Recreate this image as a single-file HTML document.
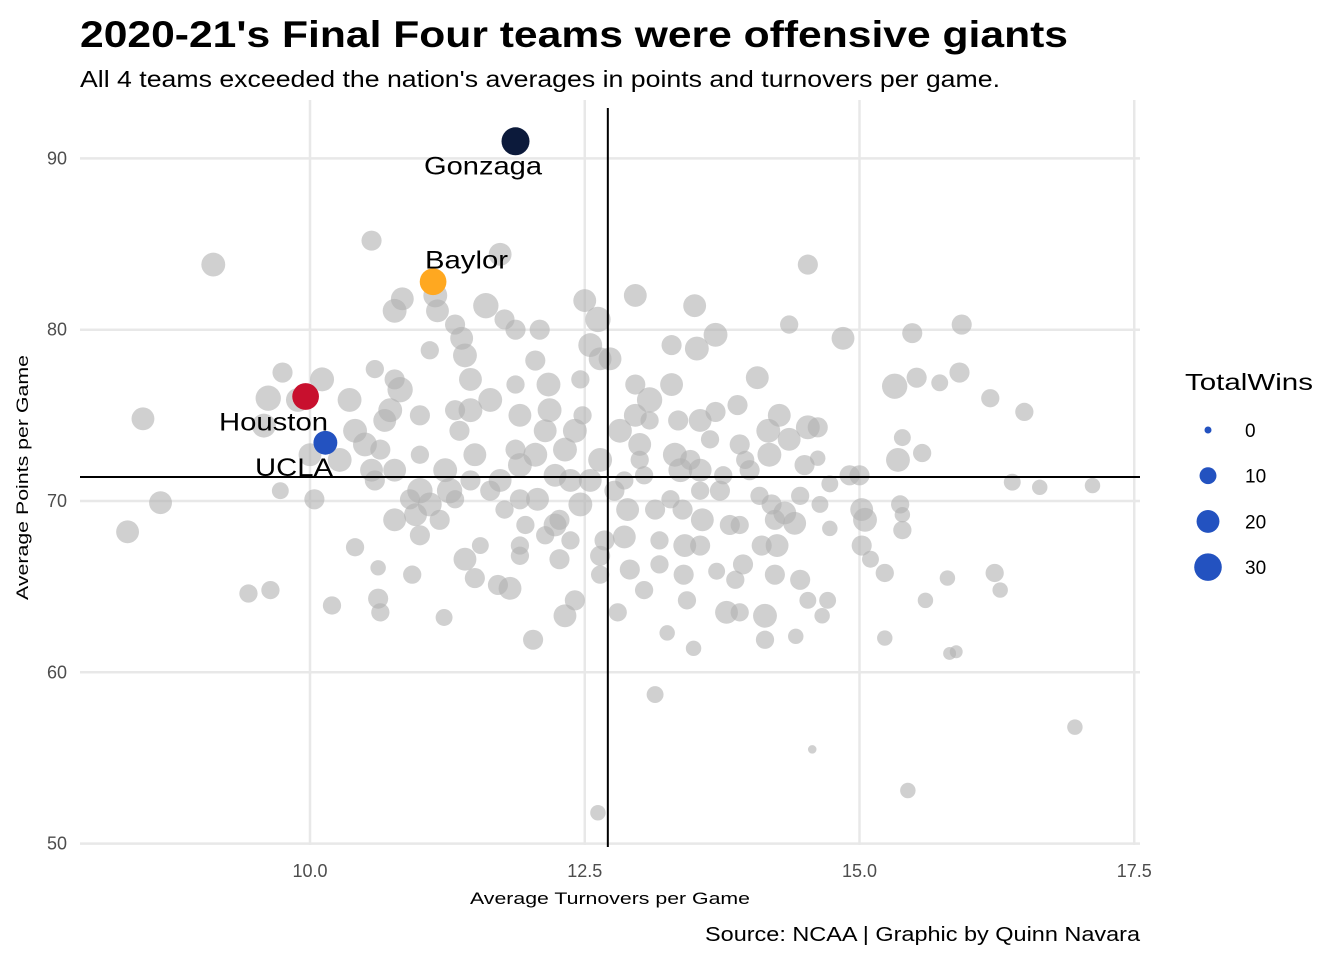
<!DOCTYPE html>
<html><head><meta charset="utf-8"><style>
body{margin:0;background:#fff;font-family:"Liberation Sans",Arial,sans-serif}
</style></head><body>
<svg id="chart" width="1344" height="960" xmlns="http://www.w3.org/2000/svg" font-family="Liberation Sans, Arial, sans-serif">
<text x="80" y="47" font-size="37" font-weight="bold" fill="#000" textLength="988" lengthAdjust="spacingAndGlyphs">2020-21's Final Four teams were offensive giants</text>
<text x="80" y="87" font-size="23" fill="#000" textLength="920" lengthAdjust="spacingAndGlyphs">All 4 teams exceeded the nation's averages in points and turnovers per game.</text>
<g id="grid"></g>
<g id="pts"></g>
<g id="refs"></g>
<g id="hl"></g>
<g id="axes"></g>
<text x="470" y="904" font-size="17" fill="#000" textLength="280" lengthAdjust="spacingAndGlyphs">Average Turnovers per Game</text>
<text transform="translate(28,600) rotate(-90)" font-size="17" fill="#000" textLength="245" lengthAdjust="spacingAndGlyphs">Average Points per Game</text>
<text x="705" y="941" font-size="20" fill="#000" textLength="435" lengthAdjust="spacingAndGlyphs">Source: NCAA | Graphic by Quinn Navara</text>
<g id="legend">
<text x="1185" y="390" font-size="23" fill="#000" textLength="128" lengthAdjust="spacingAndGlyphs">TotalWins</text>
</g>
</svg>
<script>
const xTicks=[10,12.5,15,17.5];
const xTickLabels=["10.0","12.5","15.0","17.5"];
const yTicks=[50,60,70,80,90];
const yTickLabels=["50","60","70","80","90"];
const meanTurnovers=12.71;
const meanPoints=71.4;
const legendWins=[0,10,20,30];
const teamX=[8.34,8.48,8.64,9.12,9.44,9.64,9.62,9.58,9.75,9.73,9.89,10.04,10.11,10.20,10.0,10.27,10.41,10.56,10.59,10.62,10.62,10.64,10.36,10.41,10.50,10.56,10.77,10.84,10.77,10.82,10.73,10.93,10.96,11.0,11.0,11.0,11.14,11.16,11.22,11.23,11.27,11.32,11.38,11.41,11.46,11.36,11.46,11.46,11.41,11.5,11.55,11.60,11.64,11.73,11.71,11.82,11.77,11.87,11.87,11.91,11.87,11.73,11.91,11.91,11.91,12.03,12.05,12.09,12.07,12.14,12.17,12.18,12.23,12.27,12.32,12.41,12.32,12.41,12.46,12.48,12.50,12.55,12.62,12.64,12.73,12.64,12.68,12.64,12.64,12.62,12.82,12.80,12.86,12.91,12.89,12.96,12.96,12.96,13.0,13.04,13.09,13.0,13.04,13.14,13.18,13.25,13.29,13.29,13.32,13.35,13.37,13.39,13.41,13.40,13.43,13.49,13.50,13.52,13.55,13.55,13.55,13.57,13.69,13.69,13.70,13.73,13.76,13.79,13.82,13.87,13.91,13.89,13.94,13.96,14.0,14.07,14.11,14.14,14.14,14.17,14.18,14.20,14.23,14.25,14.23,14.27,14.32,14.36,14.36,14.41,14.42,14.46,14.50,14.53,14.53,14.53,14.57,14.62,14.62,14.66,14.71,14.73,14.85,14.91,15.0,15.02,15.05,15.02,15.10,15.23,15.23,15.32,15.35,15.37,15.39,15.39,15.39,15.44,15.48,15.52,15.57,15.60,15.73,15.80,15.82,15.88,15.91,15.93,16.19,16.23,16.28,16.39,16.50,16.64,16.96,17.12,12.05,11.91,12.23,12.37,12.46,12.55,12.27,11.09,11.18,11.32,11.50,11.64,11.0,10.77,10.64,10.77,10.91,11.32,13.09,13.14,13.18,13.91,14.09,14.46,14.64,14.73,13.91,13.64,13.46,13.28,12.86,12.77,13.55,12.14,12.37,11.77,11.96,10.68,10.59,11.09];
const teamY=[68.2,74.8,69.9,83.8,64.6,64.8,76.0,74.4,77.5,70.6,75.9,70.1,77.1,63.9,72.7,72.4,67.3,85.2,77.7,66.1,64.3,63.5,75.9,74.1,73.3,71.8,81.1,81.8,68.9,76.5,75.3,65.7,69.2,68.0,75.0,70.6,82.0,81.1,63.2,71.8,70.6,80.3,79.5,78.5,77.1,74.1,75.3,71.2,66.6,65.5,67.4,81.4,75.9,84.4,65.1,64.9,80.6,80.0,76.8,75.0,73.0,71.2,72.1,67.4,66.8,61.9,78.2,80.0,70.1,74.1,76.8,75.3,68.6,66.6,63.3,64.2,73.0,74.1,77.1,75.0,81.7,79.1,80.6,78.3,78.3,72.4,67.7,66.8,65.7,51.8,74.1,63.5,67.9,66.0,69.5,82.0,76.8,75.0,73.3,64.8,75.9,72.4,71.5,58.7,66.3,62.3,79.1,76.8,72.7,74.7,71.8,69.5,67.4,65.7,64.2,61.4,81.4,78.9,74.7,71.8,67.4,68.9,79.7,75.2,65.9,70.6,71.5,63.5,68.6,65.4,63.5,75.6,66.3,72.4,71.8,77.2,67.4,61.9,63.3,74.1,72.7,69.8,68.9,67.4,65.7,75.0,69.3,80.3,73.6,68.7,62.1,65.4,72.1,83.8,74.3,64.2,55.5,74.3,72.5,63.3,64.2,68.4,79.5,71.5,71.5,69.5,68.9,67.4,66.6,65.8,62.0,76.7,72.4,69.8,73.7,68.3,69.2,53.1,79.8,77.2,72.8,64.2,76.9,65.5,61.1,61.2,77.5,80.3,76.0,65.8,64.8,71.1,75.2,70.8,56.8,70.9,72.7,70.1,71.5,71.2,69.8,71.2,68.9,69.8,68.9,70.1,72.7,70.6,72.7,71.8,73.0,77.1,70.1,75.3,74.7,69.5,67.7,68.6,70.3,70.3,69.8,71.0,73.3,73.6,72.4,70.1,71.2,70.6,70.6,68.0,67.7,69.5,68.6,74.7,71.2,78.8];
const teamWins=[20,20,20,22,12,12,25,22,15,10,22,15,22,12,20,22,12,15,12,8,15,12,22,22,22,20,22,20,20,25,22,12,20,15,15,25,22,20,10,22,25,15,20,22,20,15,22,15,20,15,10,25,22,20,15,20,15,15,12,20,15,20,22,12,12,15,15,15,20,20,22,22,20,15,20,15,22,22,12,12,20,22,25,20,20,22,15,15,12,8,22,12,20,15,20,20,15,20,20,12,25,12,12,10,12,8,15,20,22,15,22,15,20,15,12,8,20,22,20,20,15,20,22,15,10,15,12,20,15,12,12,15,15,12,15,20,15,12,22,22,22,15,15,20,15,20,20,12,20,20,8,15,15,15,22,10,1,15,8,8,10,8,20,15,15,20,22,15,10,12,8,25,22,12,10,12,8,8,15,15,12,8,10,8,5,5,15,15,12,12,8,10,12,8,8,8,22,15,20,20,22,20,15,22,15,12,20,15,12,20,15,15,15,15,12,15,12,12,12,12,10,10,15,12,15,12,12,15,12,12,12,12,12,20,15,12];
const hlNames=["Gonzaga","Baylor","Houston","UCLA"];
const hlX=[11.87,11.12,9.96,10.14];
const hlY=[91.0,82.8,76.1,73.4];
const hlWins=[31,28,28,22];
const hlColors=["#0c1a3b","#ffa820","#c8102e","#2352c0"];
const hlLabelX=[424,425,219,255];
const hlLabelW=[118,83,109,78];
const hlLabelDY=[33,-13,34,33];

const NS="http://www.w3.org/2000/svg";
const X0=80,X1=1140,Y0=100,Y1=845;
const xs=v=>310+(v-10)*109.9;
const ys=v=>501-(v-70)*17.13;
const rs=w=>Math.sqrt(3.5*3.5+Math.max(w,0)/31*(14*14-3.5*3.5));
function mk(tag,attrs,parent){const e=document.createElementNS(NS,tag);for(const k in attrs)e.setAttribute(k,attrs[k]);parent.appendChild(e);return e;}
const grid=document.getElementById('grid'),axes=document.getElementById('axes');
xTicks.forEach((t,i)=>{
  const l=mk('line',{x1:xs(t),x2:xs(t),y1:Y0,y2:Y1,stroke:'#e8e8e8','stroke-width':2.5},grid);
  
  
  const tx=mk('text',{x:xs(t),y:877,'font-size':18,'text-anchor':'middle',fill:'#4d4d4d'},axes);
  tx.textContent=xTickLabels[i];
  
  
});
yTicks.forEach((t,i)=>{
  const l=mk('line',{x1:X0,x2:X1,y1:ys(t),y2:ys(t),stroke:'#e8e8e8','stroke-width':2.5},grid);
  
  
  const tx=mk('text',{x:67,y:ys(t)+6,'font-size':18,'text-anchor':'end',fill:'#4d4d4d'},axes);
  tx.textContent=yTickLabels[i];
  
  
});
const pts=document.getElementById('pts');
teamX.forEach((x,i)=>{
  const c=mk('circle',{cx:xs(x),cy:ys(teamY[i]),r:rs(teamWins[i]),fill:'#b0b0b0','fill-opacity':0.6},pts);
  
  
});
const refs=document.getElementById('refs');
const vl=mk('line',{x1:xs(meanTurnovers),x2:xs(meanTurnovers),y1:108,y2:847,stroke:'#000','stroke-width':2},refs);


const hlLine=mk('line',{x1:80,x2:1140,y1:ys(meanPoints),y2:ys(meanPoints),stroke:'#000','stroke-width':2},refs);


const hl=document.getElementById('hl');
hlNames.forEach((n,i)=>{
  const c=mk('circle',{cx:xs(hlX[i]),cy:ys(hlY[i]),r:rs(hlWins[i]),fill:hlColors[i]},hl);
  
  
  const t=mk('text',{x:hlLabelX[i],y:ys(hlY[i])+hlLabelDY[i],'font-size':25,fill:'#000',textLength:hlLabelW[i],lengthAdjust:'spacingAndGlyphs'},hl);
  t.textContent=n;
  
  
});
const lg=document.getElementById('legend');
legendWins.forEach((w,i)=>{
  const y=430+i*45.7;
  const c=mk('circle',{cx:1208,cy:y,r:rs(w),fill:'#2352c0'},lg);
  
  
  const t=mk('text',{x:1245,y:y+7,'font-size':19,fill:'#000'},lg);
  t.textContent=String(w);
  
  
});
</script>
</body></html>
